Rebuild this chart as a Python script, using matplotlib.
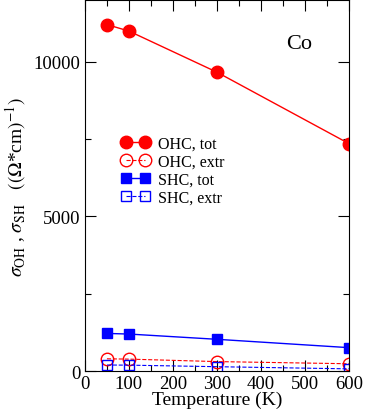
import matplotlib
matplotlib.use("Agg")
import matplotlib.pyplot as plt
from matplotlib.ticker import MultipleLocator

plt.rcParams["font.family"] = ["Liberation Serif", "DejaVu Serif"]
plt.rcParams["mathtext.fontset"] = "stix"

temperatura = [50, 100, 300, 600]
ohc_tot = [11200, 10990, 9660, 7350]
ohc_extr = [400, 390, 310, 240]
shc_tot = [1220, 1200, 1030, 760]
shc_extr = [200, 195, 145, 75]

fig = plt.figure(figsize=(3.66, 4.14), dpi=100)
ax = fig.add_axes([0.232, 0.101, 0.722, 0.897])

ax.plot(temperatura, ohc_tot, "-o", color="red", lw=1.0, ms=9, label="OHC, tot")
ax.plot(temperatura, ohc_extr, "--o", color="red", lw=0.8, ms=9,
        mfc="none", mew=1.0, label="OHC, extr")
ax.plot(temperatura, shc_tot, "-s", color="blue", lw=1.0, ms=7.5, label="SHC, tot")
ax.plot(temperatura, shc_extr, "--s", color="blue", lw=0.8, ms=7.5,
        mfc="none", mew=1.0, label="SHC, extr")

ax.set_xlim(0, 600)
ax.set_ylim(0, 12000)
ax.xaxis.set_major_locator(MultipleLocator(100))
ax.xaxis.set_minor_locator(MultipleLocator(50))
ax.yaxis.set_major_locator(MultipleLocator(5000))
ax.yaxis.set_minor_locator(MultipleLocator(2500))
ax.tick_params(which="both", direction="in", top=True, right=True, labelsize=13.5)
ax.tick_params(which="major", length=8, width=0.8, pad=3)
ax.tick_params(which="minor", length=4.5, width=0.8)

ax.set_xlabel("Temperature (K)", fontsize=14, labelpad=-1)
ax.set_ylabel(r"$\sigma_{\rm OH}$ , $\sigma_{\rm SH}$   $((\Omega$*cm$)^{-1})$",
              fontsize=14, labelpad=4)
ax.text(0.81, 0.882, "Co", transform=ax.transAxes, fontsize=16, ha="center", va="center")

ax.legend(loc="upper left", bbox_to_anchor=(0.095, 0.665), frameon=False,
          fontsize=11.5, numpoints=2, handlelength=1.8, handletextpad=0.5,
          labelspacing=0.12, borderpad=0.2)

fig.savefig("out.png", dpi=100)
